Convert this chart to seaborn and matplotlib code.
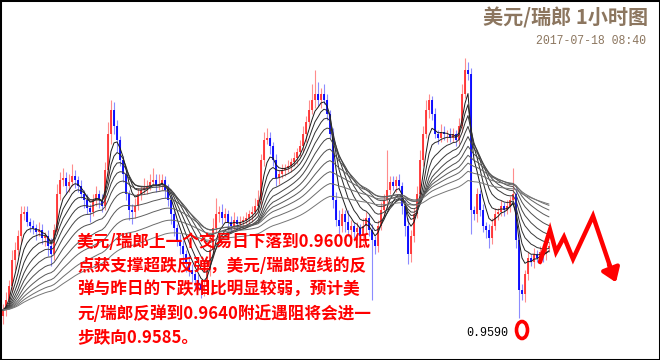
import numpy as np
import pandas as pd
import matplotlib.pyplot as plt
import seaborn as sns
from matplotlib.patches import Ellipse, FancyArrowPatch

# hourly closes, in pips above 0.9590
close_pips = [
    4, 9, 16, 29, 34, 41, 52, 53, 48, 46,
    45, 43, 44, 40, 41, 36, 32, 44, 62, 69,
    70, 66, 68, 71, 69, 66, 62, 59, 55, 53,
    59, 62, 59, 56, 74, 92, 104, 96, 89, 79,
    72, 62, 54, 53, 56, 62, 64, 65, 66, 68,
    69, 66, 67, 69, 64, 59, 52, 45, 39, 36,
    32, 28, 24, 22, 19, 17, 14, 16, 24, 34,
    45, 52, 53, 50, 52, 48, 46, 49, 47, 48,
    49, 50, 52, 53, 56, 59, 79, 89, 90, 86,
    79, 70, 72, 74, 75, 76, 78, 80, 83, 86,
    92, 98, 104, 109, 112, 109, 112, 109, 102, 92,
    59, 49, 46, 52, 48, 44, 46, 43, 45, 41,
    46, 50, 44, 39, 36, 46, 54, 59, 64, 68,
    66, 69, 66, 56, 46, 32, 41, 52, 62, 79,
    92, 104, 109, 102, 92, 90, 93, 92, 92, 90,
    92, 89, 96, 112, 124, 122, 54, 52, 62, 54,
    46, 44, 40, 46, 52, 53, 56, 54, 56, 59,
    62, 39, 14, 12, 22, 30, 28, 32, 30, 33,
    32, 35, 36,
]
# wick lengths beyond the body, in pips
upper_wick = [
    3, 4, 3, 5, 4, 3, 4, 3, 3, 2,
    3, 2, 4, 3, 2, 3, 4, 3, 5, 4,
    5, 3, 4, 6, 3, 2, 3, 2, 3, 2,
    3, 4, 2, 3, 4, 6, 5, 4, 3, 2,
    2, 3, 2, 3, 4, 3, 2, 5, 3, 4,
    6, 3, 5, 3, 2, 3, 2, 3, 2, 3,
    3, 2, 4, 3, 2, 3, 2, 3, 4, 3,
    5, 8, 3, 4, 3, 2, 3, 4, 2, 3,
    2, 3, 2, 3, 4, 5, 3, 4, 5, 3,
    2, 3, 2, 3, 2, 3, 2, 3, 2, 3,
    4, 3, 5, 8, 12, 6, 3, 5, 3, 2,
    3, 4, 5, 3, 2, 6, 3, 2, 3, 2,
    4, 3, 2, 3, 2, 3, 4, 3, 20, 3,
    3, 2, 3, 2, 3, 4, 3, 3, 4, 5,
    4, 5, 3, 2, 3, 2, 4, 3, 2, 3,
    3, 2, 4, 5, 6, 4, 3, 2, 3, 2,
    3, 2, 3, 4, 3, 2, 3, 2, 3, 2,
    13, 3, 4, 3, 2, 3, 2, 3, 2, 3,
    2, 3, 2,
]
lower_wick = [
    4, 3, 4, 3, 5, 3, 4, 3, 2, 3,
    3, 4, 2, 3, 4, 5, 6, 3, 2, 3,
    3, 4, 3, 2, 4, 3, 2, 4, 3, 5,
    2, 3, 4, 3, 2, 3, 5, 4, 6, 3,
    4, 3, 5, 6, 3, 2, 3, 2, 3, 2,
    2, 3, 2, 3, 4, 3, 5, 4, 3, 4,
    4, 5, 3, 4, 5, 3, 4, 3, 2, 3,
    3, 2, 4, 3, 2, 4, 3, 2, 3, 2,
    3, 2, 3, 4, 2, 3, 4, 3, 2, 4,
    3, 4, 3, 2, 3, 2, 3, 2, 3, 2,
    3, 4, 3, 2, 4, 3, 4, 2, 3, 2,
    4, 3, 4, 3, 5, 3, 4, 3, 4, 3,
    3, 4, 3, 30, 4, 3, 2, 3, 4, 2,
    2, 3, 2, 4, 5, 5, 4, 3, 2, 3,
    3, 2, 4, 3, 2, 3, 2, 3, 4, 2,
    2, 3, 2, 3, 2, 3, 12, 3, 4, 3,
    3, 4, 5, 3, 2, 3, 2, 3, 2, 3,
    2, 4, 14, 3, 4, 3, 2, 3, 2, 3,
    4, 3, 2,
]
ema_spans = [5, 8, 12, 17, 23, 31, 42, 56, 75, 100]

title = "美元/瑞郎 1小时图"
stamp = "2017-07-18 08:40"
note = ("美元/瑞郎上一个交易日下落到0.9600低\n"
        "点获支撑超跌反弹，美元/瑞郎短线的反\n"
        "弹与昨日的下跌相比明显较弱，预计美\n"
        "元/瑞郎反弹到0.9640附近遇阻将会进一\n"
        "步跌向0.9585。")
low_label = "0.9590"

base = 0.9590
pip = 0.0001
close = base + np.array(close_pips) * pip
opn = np.r_[close[0] - 3 * pip, close[:-1]]
high = np.maximum(opn, close) + np.array(upper_wick) * pip
low = np.minimum(opn, close) - np.array(lower_wick) * pip
idx = np.arange(len(close))

df = pd.DataFrame({"bar": idx, "open": opn, "high": high, "low": low, "close": close})
ema = pd.concat(
    [pd.DataFrame({"bar": idx, "span": s, "value": df["close"].ewm(span=s, adjust=False).mean()})
     for s in ema_spans]
)

sns.set_style("white")
plt.rcParams["font.family"] = ["Noto Sans CJK SC", "DejaVu Sans"]

fig = plt.figure(figsize=(6.6, 3.6), dpi=100)
ax = fig.add_axes([0, 0, 1, 1])

up = df["close"] >= df["open"]
ax.vlines(df.loc[up, "bar"], df.loc[up, "low"], df.loc[up, "high"], color="#ff8c8c", lw=0.8, zorder=2)
ax.vlines(df.loc[~up, "bar"], df.loc[~up, "low"], df.loc[~up, "high"], color="#8c8cff", lw=0.8, zorder=2)
ax.vlines(df.loc[up, "bar"], df.loc[up, "open"], df.loc[up, "close"], color="#ff3030", lw=1.3, zorder=3)
ax.vlines(df.loc[~up, "bar"], df.loc[~up, "open"], df.loc[~up, "close"], color="#0000ff", lw=1.3, zorder=3)

greys = ["#1a1a1a", "#262626", "#303030", "#3a3a3a", "#444444", "#4e4e4e", "#585858", "#626262", "#6c6c6c", "#767676"]
sns.lineplot(data=ema, x="bar", y="value", hue="span", palette=greys, lw=0.7,
             legend=False, ax=ax, zorder=4)

ax.set_xlim(-1, 219)
ax.set_ylim(base - 21 * pip, base + 159 * pip)
ax.set_xticks([])
ax.set_yticks([])
ax.set_xlabel("")
ax.set_ylabel("")
for sp in ax.spines.values():
    sp.set_visible(True)
    sp.set_color("black")
    sp.set_linewidth(2.2)

px = lambda x, y: (x / 660, 1 - y / 360)

fig.text(*px(648, 18), title, ha="right", va="center", fontsize=14.5,
         fontweight="bold", color="#8c765f")
fig.text(*px(646, 41), stamp, ha="right", va="center", fontsize=8.3,
         family=["Liberation Mono", "DejaVu Sans Mono"], color="#8c765f")
fig.text(*px(77, 233), note, ha="left", va="top", fontsize=12, fontweight="bold",
         color="#ff0000", linespacing=1.42, zorder=10)
fig.text(*px(508, 333), low_label, ha="right", va="center", fontsize=8.5,
         family=["Liberation Mono", "DejaVu Sans Mono"], color="black")

ell = Ellipse(px(522, 330), 11 / 660, 17 / 360, transform=fig.transFigure,
              fill=False, ec="#ff0000", lw=2.6)
fig.add_artist(ell)

zig = [(540, 262), (550, 230), (556, 252), (564, 237), (573, 259), (593, 216), (612, 272)]
fig.add_artist(plt.Line2D([px(*p)[0] for p in zig], [px(*p)[1] for p in zig],
                          transform=fig.transFigure, color="#ff0000", lw=3.2,
                          solid_joinstyle="miter"))
arr = FancyArrowPatch(px(608, 262), px(617, 285), transform=fig.transFigure,
                      arrowstyle="-|>,head_length=5,head_width=3.5", color="#ff0000",
                      lw=3.2, mutation_scale=1.6)
fig.add_artist(arr)

fig.savefig("out.png", dpi=100)
